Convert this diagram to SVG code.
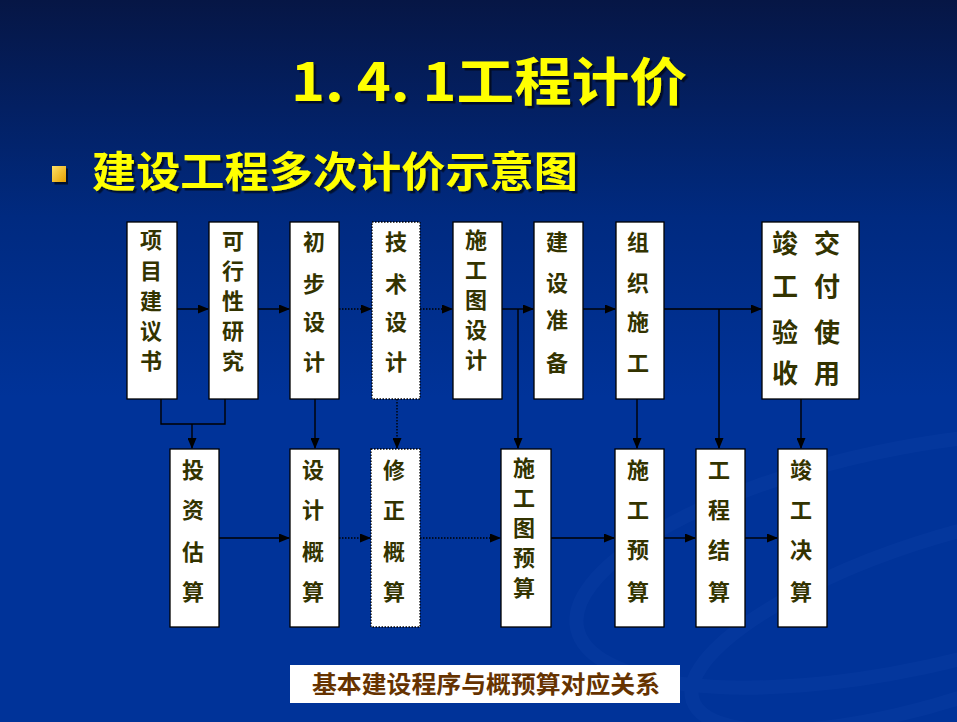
<svg xmlns="http://www.w3.org/2000/svg" width="957" height="722" viewBox="0 0 957 722">
<defs>
<linearGradient id="bg" x1="0" y1="0" x2="0" y2="1">
<stop offset="0" stop-color="#061645"/>
<stop offset="0.3" stop-color="#002a80"/>
<stop offset="0.55" stop-color="#003399"/>
<stop offset="1" stop-color="#003399"/>
</linearGradient>
<linearGradient id="bul" x1="0" y1="0" x2="1" y2="1">
<stop offset="0" stop-color="#ffe066"/>
<stop offset="1" stop-color="#e6a000"/>
</linearGradient>
<filter id="shadow" x="-5%" y="-20%" width="115%" height="150%">
<feDropShadow dx="2.5" dy="2.5" stdDeviation="0.6" flood-color="#000" flood-opacity="0.6"/>
</filter>
<marker id="ah" markerUnits="userSpaceOnUse" markerWidth="11" markerHeight="9" refX="10" refY="4.5" orient="auto">
<path d="M0,0 L11,4.5 L0,9 z" fill="#000"/>
</marker>
</defs>
<style>
.box{fill:#fff;stroke:#000;stroke-width:1.3}
.dbox{fill:#fff;stroke:#000;stroke-width:1.3;stroke-dasharray:1.5 1.5}
.t{font-family:"Noto Sans CJK SC","Noto Sans",sans-serif;font-weight:bold;font-size:22px;fill:#333300;text-anchor:middle}
.tl{font-family:"Noto Sans CJK SC","Noto Sans",sans-serif;font-weight:bold;font-size:26px;fill:#333300;text-anchor:middle}
.c{fill:none;stroke:#000;stroke-width:1.4}
.d{fill:none;stroke:#000;stroke-width:1.4;stroke-dasharray:1.5 1.5}
.y{font-family:"Noto Sans CJK SC","Noto Sans",sans-serif;font-weight:bold;fill:#ffff00;filter:url(#shadow)}
</style>
<rect width="957" height="722" fill="url(#bg)"/>
<g fill="none" stroke="#1a4bb0" stroke-width="14" opacity="0.18">
<ellipse cx="900" cy="560" rx="330" ry="110" transform="rotate(-12 900 560)"/>
<ellipse cx="940" cy="620" rx="260" ry="80" transform="rotate(-18 940 620)"/>
</g>

<g id="title">
<text class="y" x="291" y="101" font-size="52" textLength="396" lengthAdjust="spacingAndGlyphs">1. 4. 1工程计价</text>
</g>
<g id="subtitle">
<rect x="52" y="166" width="14" height="16" fill="url(#bul)" filter="url(#shadow)"/>
<text class="y" x="92" y="187" font-size="42" textLength="486" lengthAdjust="spacingAndGlyphs">建设工程多次计价示意图</text>
</g>

<g id="connectors">
<path class="c" d="M177,309 H208" marker-end="url(#ah)"/>
<path class="c" d="M258,309 H289" marker-end="url(#ah)"/>
<path class="d" d="M339,309 H371" marker-end="url(#ah)"/>
<path class="d" d="M420,309 H452" marker-end="url(#ah)"/>
<path class="c" d="M502,309 H533" marker-end="url(#ah)"/>
<path class="c" d="M518,309 V448" marker-end="url(#ah)"/>
<path class="c" d="M583,309 H615" marker-end="url(#ah)"/>
<path class="c" d="M664,309 H761" marker-end="url(#ah)"/>
<path class="c" d="M719,309 V448" marker-end="url(#ah)"/>
<path class="c" d="M161,399 V424 H225 V399"/>
<path class="c" d="M192,424 V448" marker-end="url(#ah)"/>
<path class="c" d="M315,399 V448" marker-end="url(#ah)"/>
<path class="d" d="M397,399 V448" marker-end="url(#ah)"/>
<path class="c" d="M637,399 V448" marker-end="url(#ah)"/>
<path class="c" d="M801,399 V448" marker-end="url(#ah)"/>
<path class="c" d="M219,538 H289" marker-end="url(#ah)"/>
<path class="d" d="M339,538 H370" marker-end="url(#ah)"/>
<path class="d" d="M420,538 H500" marker-end="url(#ah)"/>
<path class="c" d="M551,538 H614" marker-end="url(#ah)"/>
<path class="c" d="M664,538 H695" marker-end="url(#ah)"/>
<path class="c" d="M745,538 H777" marker-end="url(#ah)"/>
</g>

<g id="n-xmjys">
<rect class="box" x="127" y="222" width="50" height="177"/>
<text class="t"><tspan x="151" y="248">项</tspan><tspan x="151" y="279">目</tspan><tspan x="151" y="309">建</tspan><tspan x="151" y="339">议</tspan><tspan x="151" y="369">书</tspan></text>
</g>
<g id="n-kxxyj">
<rect class="box" x="209" y="222" width="49" height="177"/>
<text class="t"><tspan x="233" y="249">可</tspan><tspan x="233" y="279">行</tspan><tspan x="233" y="309">性</tspan><tspan x="233" y="339">研</tspan><tspan x="233" y="369">究</tspan></text>
</g>
<g id="n-cbsj">
<rect class="box" x="290" y="222" width="49" height="177"/>
<text class="t"><tspan x="314" y="250">初</tspan><tspan x="314" y="292">步</tspan><tspan x="314" y="330">设</tspan><tspan x="314" y="370">计</tspan></text>
</g>
<g id="n-jssj">
<rect class="dbox" x="372" y="222" width="48" height="177"/>
<text class="t"><tspan x="396" y="250">技</tspan><tspan x="396" y="292">术</tspan><tspan x="396" y="330">设</tspan><tspan x="396" y="370">计</tspan></text>
</g>
<g id="n-sgtsj">
<rect class="box" x="453" y="222" width="49" height="177"/>
<text class="t"><tspan x="476" y="248">施</tspan><tspan x="476" y="278">工</tspan><tspan x="476" y="308">图</tspan><tspan x="476" y="338">设</tspan><tspan x="476" y="368">计</tspan></text>
</g>
<g id="n-jszb">
<rect class="box" x="534" y="222" width="49" height="177"/>
<text class="t"><tspan x="557" y="250">建</tspan><tspan x="557" y="291">设</tspan><tspan x="557" y="328">准</tspan><tspan x="557" y="371">备</tspan></text>
</g>
<g id="n-zzsg">
<rect class="box" x="616" y="222" width="48" height="177"/>
<text class="t"><tspan x="638" y="250">组</tspan><tspan x="638" y="291">织</tspan><tspan x="638" y="330">施</tspan><tspan x="638" y="371">工</tspan></text>
</g>
<g id="n-jgys">
<rect class="box" x="762" y="222" width="97" height="177"/>
<text class="tl"><tspan x="785" y="253">竣</tspan><tspan x="785" y="296">工</tspan><tspan x="785" y="342">验</tspan><tspan x="785" y="383">收</tspan></text>
<text class="tl"><tspan x="827" y="253">交</tspan><tspan x="827" y="296">付</tspan><tspan x="827" y="342">使</tspan><tspan x="827" y="383">用</tspan></text>
</g>

<g id="n-tzgs">
<rect class="box" x="170" y="449" width="49" height="178"/>
<text class="t"><tspan x="193" y="478">投</tspan><tspan x="193" y="518">资</tspan><tspan x="193" y="560">估</tspan><tspan x="193" y="600">算</tspan></text>
</g>
<g id="n-sjgs">
<rect class="box" x="290" y="449" width="49" height="178"/>
<text class="t"><tspan x="313" y="478">设</tspan><tspan x="313" y="518">计</tspan><tspan x="313" y="560">概</tspan><tspan x="313" y="600">算</tspan></text>
</g>
<g id="n-xzgs">
<rect class="dbox" x="371" y="449" width="49" height="178"/>
<text class="t"><tspan x="394" y="478">修</tspan><tspan x="394" y="518">正</tspan><tspan x="394" y="560">概</tspan><tspan x="394" y="600">算</tspan></text>
</g>
<g id="n-sgtys">
<rect class="box" x="501" y="449" width="50" height="178"/>
<text class="t"><tspan x="524" y="476">施</tspan><tspan x="524" y="506">工</tspan><tspan x="524" y="536">图</tspan><tspan x="524" y="566">预</tspan><tspan x="524" y="596">算</tspan></text>
</g>
<g id="n-sgys">
<rect class="box" x="615" y="449" width="49" height="178"/>
<text class="t"><tspan x="638" y="478">施</tspan><tspan x="638" y="518">工</tspan><tspan x="638" y="558">预</tspan><tspan x="638" y="600">算</tspan></text>
</g>
<g id="n-gcjs">
<rect class="box" x="696" y="449" width="49" height="178"/>
<text class="t"><tspan x="719" y="478">工</tspan><tspan x="719" y="518">程</tspan><tspan x="719" y="558">结</tspan><tspan x="719" y="600">算</tspan></text>
</g>
<g id="n-jgjs">
<rect class="box" x="778" y="449" width="49" height="178"/>
<text class="t"><tspan x="801" y="478">竣</tspan><tspan x="801" y="518">工</tspan><tspan x="801" y="558">决</tspan><tspan x="801" y="600">算</tspan></text>
</g>

<g id="caption">
<rect x="290" y="665" width="390" height="38" fill="#fff"/>
<text x="486" y="693" text-anchor="middle" font-family="'Noto Sans CJK SC','Noto Sans',sans-serif" font-weight="bold" font-size="24" fill="#663300" textLength="348" lengthAdjust="spacingAndGlyphs">基本建设程序与概预算对应关系</text>
</g>
</svg>
